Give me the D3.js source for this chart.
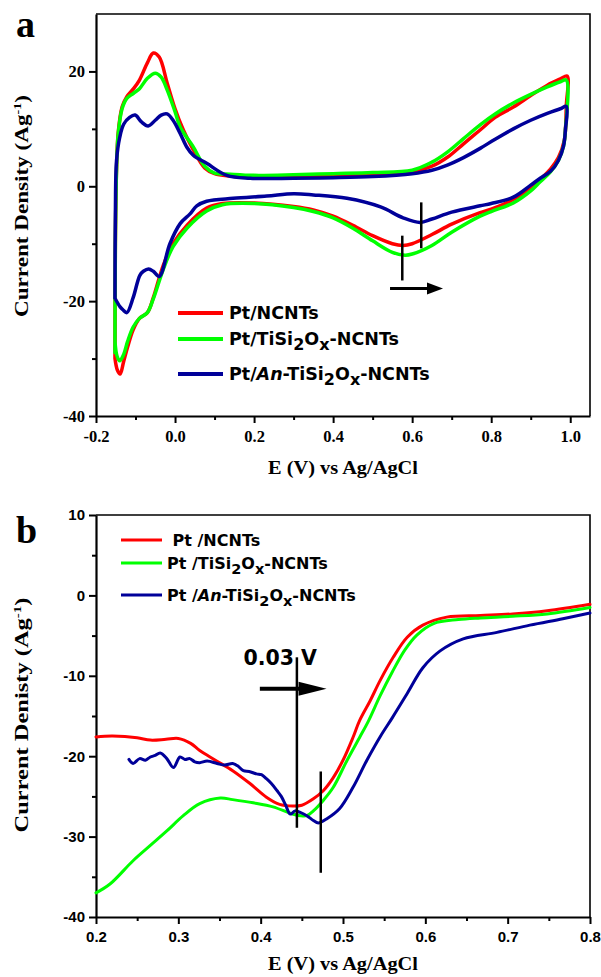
<!DOCTYPE html>
<html>
<head>
  <meta charset="utf-8">
  <title>CV and LSV curves</title>
  <script src="https://cdn.jsdelivr.net/npm/d3@7"></script>
  <style>
  body { margin: 0; background: #fff; }
  .curve { fill: none; stroke-linejoin: round; stroke-linecap: round; }
  .axis path, .axis line { stroke: #000; }
  .serif { font-family: "Liberation Serif", "Times New Roman", serif; font-weight: bold; }
  .sans { font-family: "Liberation Sans", Arial, sans-serif; font-weight: bold; }
  .wide { font-family: "DejaVu Sans", sans-serif; font-weight: bold; }
  </style>
</head>
<body>
<script>
// ---- panel a : cyclic voltammograms, [E (V), j (A/g)] ----
var cvRed = [[-0.152,-30],[-0.151,-10],[-0.148,3],[-0.144,9.2],[-0.134,13.8],[-0.122,15.6],[-0.105,17],[-0.09,18.5],
  [-0.07,21.5],[-0.055,23.2],[-0.04,22.5],[-0.02,18],[0.0,13.5],[0.021,9.8],[0.045,6.5],[0.075,3.2],[0.1,2.2],[0.14,1.8],
  [0.2,1.6],[0.3,1.7],[0.4,1.9],[0.5,2.1],[0.6,2.5],[0.65,3.5],[0.69,5.1],[0.73,7.4],[0.772,9.8],[0.81,12],[0.856,13.8],
  [0.9,15.8],[0.942,17.6],[0.975,18.7],[0.992,19.2],
  [0.99,14],[0.985,8],[0.97,5],[0.95,3],[0.924,1.2],[0.9,-0.3],[0.856,-2.3],[0.8,-4],[0.772,-4.6],[0.7,-6.6],[0.65,-8.4],
  [0.6,-10],[0.577,-10.3],[0.55,-10],[0.5,-8.6],[0.45,-6.8],[0.4,-5.2],[0.35,-4.1],[0.3,-3.5],[0.2,-2.9],[0.12,-3],
  [0.08,-3.8],[0.03,-6.8],[-0.005,-10],[-0.03,-13.8],[-0.055,-19.4],[-0.07,-22],[-0.09,-23],[-0.106,-25],[-0.12,-28],
  [-0.13,-30.5],[-0.139,-32.7],[-0.146,-32],[-0.152,-30]];

var cvGreen = [[-0.152,-29],[-0.151,-10],[-0.148,3],[-0.144,9],[-0.134,13.5],[-0.122,15.3],[-0.105,16.2],[-0.09,17],
  [-0.07,18.8],[-0.05,19.7],[-0.035,19],[-0.02,16.8],[0.0,13],[0.013,10.3],[0.045,7],[0.075,3.5],[0.1,2.3],[0.14,2.1],
  [0.2,1.9],[0.3,2.0],[0.4,2.2],[0.5,2.4],[0.6,2.8],[0.65,4.2],[0.69,6],[0.73,8.3],[0.772,10.7],[0.81,12.6],[0.856,14.5],
  [0.9,16],[0.942,17.3],[0.975,18.2],[0.99,18.5],
  [0.988,10],[0.983,7],[0.97,4.5],[0.95,2.5],[0.924,0.8],[0.9,-0.8],[0.856,-2.9],[0.8,-4.4],[0.772,-5.2],[0.7,-8],
  [0.65,-10.3],[0.6,-11.8],[0.582,-12],[0.55,-11.5],[0.5,-9.5],[0.45,-7.3],[0.4,-5.5],[0.35,-4.4],[0.3,-3.7],[0.2,-3],
  [0.12,-3.2],[0.08,-4.3],[0.03,-7.3],[-0.005,-10.5],[-0.03,-14.5],[-0.055,-19.6],[-0.07,-22],[-0.09,-23],[-0.106,-24.5],
  [-0.12,-27],[-0.13,-29.3],[-0.14,-30.4],[-0.147,-29.5],[-0.152,-27]];

var cvBlue = [[-0.152,-19.5],[-0.151,-5],[-0.148,4.5],[-0.14,8.5],[-0.13,10.8],[-0.115,12],[-0.101,12.4],[-0.085,11.2],
  [-0.068,10.5],[-0.05,11.5],[-0.035,12.4],[-0.02,12.6],[-0.005,11.5],[0.013,9.2],[0.03,6.8],[0.046,5.4],[0.08,4],
  [0.131,1.9],[0.19,1.4],[0.3,1.4],[0.4,1.5],[0.5,1.7],[0.6,2.2],[0.65,2.8],[0.689,3.7],[0.73,5],[0.772,6.6],[0.81,8.2],
  [0.856,10],[0.9,11.5],[0.942,12.7],[0.975,13.5],[0.99,13.9],
  [0.988,10],[0.983,7],[0.97,4.5],[0.95,2.6],[0.924,1.4],[0.9,0.2],[0.856,-1.9],[0.8,-3],[0.772,-3.4],[0.7,-4.5],
  [0.65,-5.7],[0.62,-6.3],[0.577,-5.5],[0.52,-3.6],[0.435,-2.1],[0.35,-1.5],[0.3,-1.3],[0.232,-1.7],[0.147,-2.1],
  [0.08,-2.6],[0.055,-3.4],[0.038,-4.8],[0.013,-6.5],[-0.013,-10],[-0.04,-15.7],[-0.055,-14.8],[-0.067,-14.4],
  [-0.08,-14.8],[-0.089,-15.5],[-0.106,-19.4],[-0.122,-22],[-0.132,-21.5],[-0.139,-21],[-0.152,-19.5]];

// peak markers and shift arrow in panel a
var cvMarks = [[0.575,-8.6,-16.4],[0.623,-2.8,-10.8]];
var cvArrow = [0.544,0.678,-17.8];

// ---- panel b : linear sweep curves ----
var lsvRed = [[0.2,-17.6],[0.22,-17.5],[0.25,-17.7],[0.266,-18],[0.285,-17.9],[0.3,-17.8],[0.315,-18.4],[0.326,-19.3],
  [0.345,-20.5],[0.366,-21.8],[0.387,-23.4],[0.407,-25.1],[0.423,-26],[0.439,-26.2],[0.45,-26.1],[0.464,-25.3],
  [0.476,-24.3],[0.488,-22.7],[0.5,-20.5],[0.512,-17.7],[0.52,-15.6],[0.533,-13.1],[0.545,-10.6],[0.561,-7.7],
  [0.578,-5.2],[0.597,-3.7],[0.626,-2.7],[0.667,-2.5],[0.706,-2.3],[0.748,-1.9],[0.8,-1.1]];

var lsvGreen = [[0.2,-37],[0.217,-35.9],[0.245,-33],[0.266,-31.1],[0.286,-29.3],[0.306,-27.4],[0.326,-25.9],[0.351,-25.2],
  [0.366,-25.4],[0.391,-25.8],[0.415,-26.3],[0.436,-27.1],[0.448,-27.4],[0.456,-27.4],[0.464,-26.8],[0.476,-25.5],
  [0.488,-23.9],[0.505,-20.5],[0.52,-17.7],[0.531,-15.6],[0.545,-12.5],[0.56,-9.5],[0.575,-6.8],[0.59,-4.9],[0.61,-3.5],
  [0.64,-3],[0.667,-2.8],[0.706,-2.6],[0.748,-2.3],[0.8,-1.5]];

var lsvBlue = [[0.24,-20.4],[0.245,-20.9],[0.253,-20.3],[0.26,-20.5],[0.266,-20.1],[0.272,-19.9],[0.278,-19.6],[0.286,-20.3],
  [0.294,-21.4],[0.302,-20.1],[0.308,-20.4],[0.314,-20.3],[0.32,-20.7],[0.326,-20.8],[0.335,-20.6],[0.347,-20.9],
  [0.356,-21.1],[0.366,-20.9],[0.372,-21.2],[0.379,-21.8],[0.386,-21.9],[0.395,-22.2],[0.401,-22.3],[0.407,-22.8],
  [0.413,-23.4],[0.42,-24.3],[0.425,-25],[0.43,-26],[0.436,-27.2],[0.442,-26.8],[0.448,-27],[0.456,-27.4],[0.464,-28],
  [0.47,-28.3],[0.48,-27.8],[0.496,-26.5],[0.512,-23.9],[0.529,-20.5],[0.545,-17.6],[0.56,-15.2],[0.578,-12.2],
  [0.597,-9],[0.618,-6.9],[0.646,-5.4],[0.687,-4.6],[0.727,-3.7],[0.767,-2.9],[0.8,-2.2]];

var lsvMarks = [[0.444,-7.7,-28.9],[0.473,-21.9,-34.5]];
var lsvArrow = [0.399,0.48,-11.6];

var colors = ["#ff0000", "#00ff00", "#000099"];
var ticksA = { x: [-0.2,0,0.2,0.4,0.6,0.8,1.0], xMinor: [-0.1,0.1,0.3,0.5,0.7,0.9], y: [-40,-20,0,20], yMinor: [-30,-10,10] };
var ticksB = { x: [0.2,0.3,0.4,0.5,0.6,0.7,0.8], xMinor: [0.25,0.35,0.45,0.55,0.65,0.75], y: [-40,-30,-20,-10,0,10], yMinor: [-35,-25,-15,-5,5] };

var svg = d3.select("body").append("svg").attr("width", 601).attr("height", 977);

// legend entries as runs of [text, style]
var legendA = [
  [["Pt/NCNTs",""]],
  [["Pt/TiSi",""],["2","sub"],["O",""],["x","sub"],["-NCNTs",""]],
  [["Pt/",""],["An","it"],["-TiSi",""],["2","sub"],["O",""],["x","sub"],["-NCNTs",""]]
];
var legendB = [
  [[" Pt /NCNTs",""]],
  [["Pt /TiSi",""],["2","sub"],["O",""],["x","sub"],["-NCNTs",""]],
  [["Pt /",""],["An","it"],["-TiSi",""],["2","sub"],["O",""],["x","sub"],["-NCNTs",""]]
];

function runs(text, parts, subSize) {
  var shift = 0;
  parts.forEach(function(p) {
    var t = text.append("tspan").text(p[0]);
    var want = p[1] === "sub" ? 5 : 0;
    if (want !== shift) { t.attr("dy", want - shift); shift = want; }
    if (p[1] === "sub") t.attr("font-size", subSize);
    if (p[1] === "it") t.attr("font-style", "italic");
  });
}

function panel(o) {
  var x = d3.scaleLinear().domain(o.xd).range([96, 590]);
  var y = d3.scaleLinear().domain(o.yd).range([o.bottom, o.top]);
  var g = svg.append("g");
  var fmt = function(d) { return o.xfmt(d); };

  g.append("g").attr("class", "axis").attr("transform", "translate(0," + o.bottom + ")")
    .call(d3.axisBottom(x).tickValues(o.ticks.xMinor).tickSize(4).tickSizeOuter(0).tickFormat(""))
    .call(function(s) { s.select(".domain").remove(); s.selectAll("line").attr("stroke-width", 2); });
  g.append("g").attr("class", "axis").attr("transform", "translate(96,0)")
    .call(d3.axisLeft(y).tickValues(o.ticks.yMinor).tickSize(4).tickSizeOuter(0).tickFormat(""))
    .call(function(s) { s.select(".domain").remove(); s.selectAll("line").attr("stroke-width", 2); });

  var xa = g.append("g").attr("class", "axis " + o.tickFont).attr("transform", "translate(0," + o.bottom + ")")
    .call(d3.axisBottom(x).tickValues(o.ticks.x).tickSize(7).tickSizeOuter(0).tickPadding(7).tickFormat(fmt));
  var ya = g.append("g").attr("class", "axis " + o.tickFont).attr("transform", "translate(96,0)")
    .call(d3.axisLeft(y).tickValues(o.ticks.y).tickSize(7).tickSizeOuter(0).tickPadding(4).tickFormat(function(d) { return String(d); }));
  [xa, ya].forEach(function(a) {
    a.attr("font-family", null).attr("font-size", null);
    a.selectAll("text").attr("font-size", o.tickSize).attr("fill", "#000");
    a.selectAll("line").attr("stroke-width", 2);
    a.select(".domain").attr("stroke-width", 2.2);
  });

  // frame top and right
  g.append("path").attr("d", "M96," + o.top + "H590V" + o.bottom)
    .attr("fill", "none").attr("stroke", "#000").attr("stroke-width", 1.6);

  o.series.forEach(function(s, i) {
    g.append("path").datum(s).attr("class", "curve")
      .attr("stroke", colors[i]).attr("stroke-width", o.lw)
      .attr("d", d3.line().x(function(d) { return x(d[0]); }).y(function(d) { return y(d[1]); })
        .curve(d3.curveCatmullRom.alpha(0.5)));
  });

  o.marks.forEach(function(m) {
    g.append("line").attr("x1", x(m[0])).attr("x2", x(m[0])).attr("y1", y(m[1])).attr("y2", y(m[2]))
      .attr("stroke", "#000").attr("stroke-width", o.markW);
  });
  var ax = o.arrow, ay = y(ax[2]), tip = x(ax[1]);
  g.append("line").attr("x1", x(ax[0])).attr("x2", tip - o.head[0] + 2).attr("y1", ay).attr("y2", ay)
    .attr("stroke", "#000").attr("stroke-width", o.arrowW);
  g.append("path").attr("d", "M" + tip + "," + ay + "l" + (-o.head[0]) + "," + (-o.head[1]) + "v" + (2 * o.head[1]) + "z")
    .attr("fill", "#000");

  // legend
  o.legend.forEach(function(parts, i) {
    var ly = o.legY[i];
    g.append("line").attr("x1", o.legX[0]).attr("x2", o.legX[1]).attr("y1", ly).attr("y2", ly)
      .attr("stroke", colors[i]).attr("stroke-width", o.legW);
    var t = g.append("text").attr("class", "wide").attr("x", o.legX[2]).attr("y", ly + o.legFs * 0.36)
      .attr("font-size", o.legFs).attr("xml:space", "preserve").style("white-space", "pre");
    runs(t, parts, o.legFs - 1.5);
  });

  // axis titles
  g.append("text").attr("class", "serif").attr("x", 343).attr("y", o.xLabY).attr("text-anchor", "middle")
    .attr("font-size", 18).attr("textLength", 150).attr("lengthAdjust", "spacingAndGlyphs")
    .text("E (V) vs Ag/AgCl");
  var yl = g.append("text").attr("class", "serif").attr("text-anchor", "middle")
    .attr("transform", "translate(28," + o.yLabC + ") rotate(-90)").attr("font-size", 18)
    .attr("textLength", o.yLabLen).attr("lengthAdjust", "spacingAndGlyphs");
  yl.append("tspan").text(o.yLab + " (Ag");
  yl.append("tspan").attr("dy", -7).attr("font-size", 11).text("-1");
  yl.append("tspan").attr("dy", 7).text(")");

  g.append("text").attr("class", "serif").attr("x", 16).attr("y", o.top + o.tagDy).attr("font-size", 38).text(o.tag);
  return { x: x, y: y, g: g };
}

panel({
  xd: [-0.2, 1.05], yd: [-40, 30], top: 14, bottom: 416, ticks: ticksA,
  xfmt: function(d) { return d.toFixed(1); }, tickFont: "serif", tickSize: 16.5,
  series: [cvRed, cvGreen, cvBlue], lw: 3.5,
  marks: cvMarks, markW: 2.5, arrow: cvArrow, arrowW: 3, head: [16, 6],
  legend: legendA, legX: [178, 223, 229], legY: [313, 339, 374], legW: 4, legFs: 17.5,
  xLabY: 474, yLab: "Current Density", yLabC: 206, yLabLen: 222, tag: "a", tagDy: 23
});

var pb = panel({
  xd: [0.2, 0.8], yd: [-40, 10], top: 515, bottom: 917, ticks: ticksB,
  xfmt: function(d) { return d.toFixed(1); }, tickFont: "sans", tickSize: 15,
  series: [lsvRed, lsvGreen, lsvBlue], lw: 3,
  marks: lsvMarks, markW: 2.5, arrow: lsvArrow, arrowW: 4, head: [28, 7],
  legend: legendB, legX: [121, 162, 167], legY: [540, 563, 595], legW: 3, legFs: 16,
  xLabY: 970, yLab: "Current Denisty", yLabC: 715, yLabLen: 235, tag: "b", tagDy: 28
});

pb.g.append("text").attr("class", "wide").attr("x", pb.x(0.379)).attr("y", pb.y(-8.7))
  .attr("font-size", 20.5).text("0.03 V");
</script>
</body>
</html>
